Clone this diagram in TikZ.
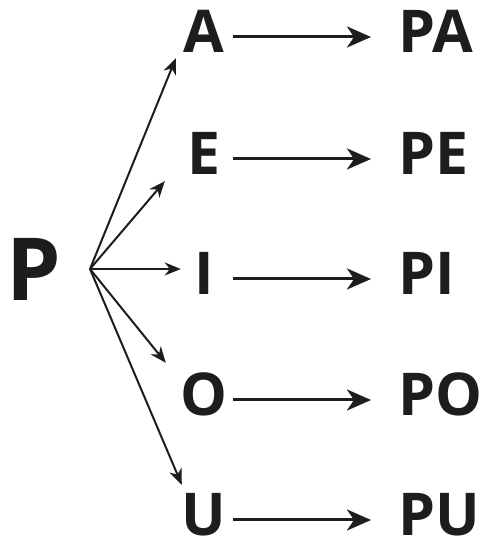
\documentclass[tikz,border=0pt]{standalone}
\usepackage{fontspec}
\setmainfont{Open Sans}
\usepackage{tikz}
\usetikzlibrary{positioning, calc, arrows.meta}
\definecolor{myink}{RGB}{29, 29, 27}

\begin{document}
\begin{tikzpicture}[x = 1pt, y = 1pt, > = {Stealth[length = 24pt, width = 21pt, inset = 7pt]}, myink,
  vowel/.style={inner sep = 0pt, minimum width = 58pt, text height = 37pt, text depth = 5pt, anchor = base, font = \fontsize{59}{59}\bfseries\selectfont},
  syll/.style={inner ysep = 0pt, inner xsep = 27pt, text height = 37pt, text depth = 5pt, anchor = base west, font = \fontsize{59}{59}\bfseries\selectfont},
  rowarrow/.style={->, line width = 3pt},
  fanarrow/.style={-{Stealth[length = 16pt, width = 13pt, inset = 5pt]}, line width = 2pt}]
  \useasboundingbox (0, 0) rectangle (483, 542);

  % nodes
  \node [inner sep = 0pt, text height = 62pt, text depth = 0pt, anchor = base west, font = \fontsize{87}{87}\bfseries\selectfont] (cons-p) at (6, 241) {P};
  \coordinate (hub) at (90, 273);

  \node [vowel] (vow-a) at (204, 489) {A};
  \node [vowel] (vow-e) at (204, 367) {E};
  \node [vowel] (vow-i) at (204, 247) {I};
  \node [vowel] (vow-o) at (204, 126) {O};
  \node [vowel] (vow-u) at (204, 6) {U};

  \node [syll] (syl-pa) at (371, 489) {PA};
  \node [syll] (syl-pe) at (371, 367) {PE};
  \node [syll] (syl-pi) at (371, 247) {PI};
  \node [syll] (syl-po) at (371, 126) {PO};
  \node [syll] (syl-pu) at (371, 6) {PU};

  % edges
  \draw [fanarrow] (hub) -- ($(vow-a.south west) + (1, 0)$);
  \draw [fanarrow] (hub) -- ($(vow-e.south west) + (-10, -1)$);
  \draw [fanarrow] (hub) -- ($(vow-i.west |- hub) + (6, 0)$);
  \draw [fanarrow] (hub) -- ($(vow-o.north west) + (-9, 16)$);
  \draw [fanarrow] (hub) -- ($(vow-u.north west) + (7, 14)$);

  \foreach \v/\s in {a/pa, e/pe, i/pi, o/po, u/pu}
    \draw [rowarrow] (vow-\v) -- (syl-\s);

\end{tikzpicture}
\end{document}
